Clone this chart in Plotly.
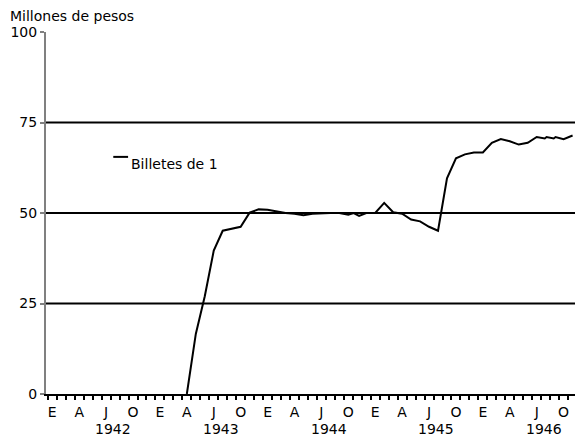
import plotly.graph_objects as go

# meses contados desde enero de 1942 (0 = E 1942)
meses = [15, 16, 17, 18, 19, 20, 21, 22, 23, 24, 25, 26, 27, 28, 29, 30, 31, 32,
         33, 33.6, 34.2, 35, 36, 37, 38, 39, 40, 41, 42, 43, 44, 45, 46, 47, 48,
         49, 50, 51, 52, 53, 54, 54.9, 55.1, 55.9, 56.1, 57, 58]
billetes = [0, 16.6, 27, 39.6, 45.1, 45.6, 46.2, 50.1, 51, 50.9, 50.4, 50, 49.8,
            49.4, 49.8, 50, 50, 50, 49.5, 50, 49.2, 50, 50, 52.8, 50.2, 49.8, 48.2,
            47.7, 46.2, 45.1, 59.6, 65.1, 66.2, 66.7, 66.7, 69.4, 70.4, 69.8, 68.9,
            69.4, 71.0, 70.6, 71.0, 70.6, 71.0, 70.4, 71.4]

etiquetas_mes = ["E", "A", "J", "O"] * 5
pos_mes = list(range(0, 60, 3))
anios = ["1942", "1943", "1944", "1945", "1946"]
lineas_guia = [25, 50, 75]

fuente = "DejaVu Sans"

fig = go.Figure()

fig.add_trace(
    go.Scatter(
        x=meses,
        y=billetes,
        mode="lines",
        line=dict(color="black", width=2),
        name="Billetes de 1",
        showlegend=False
    )
)

for v in lineas_guia:
    fig.add_hline(y=v, line=dict(color="black", width=2), layer="below")

for i, a in enumerate(anios):
    fig.add_annotation(
        x=12 * i + 6.8, y=0, xref="x", yref="paper",
        text=a, showarrow=False, yanchor="top", yshift=-25,
        font=dict(family=fuente, size=14, color="black")
    )

# leyenda hecha a mano
fig.add_shape(type="line", x0=6.8, x1=8.45, y0=65.5, y1=65.5,
              xref="x", yref="y", line=dict(color="black", width=2))
fig.add_annotation(
    x=8.5, y=63.5, xref="x", yref="y", text="Billetes de 1",
    showarrow=False, xanchor="left", yanchor="middle",
    font=dict(family=fuente, size=14, color="black")
)

fig.add_annotation(
    x=-0.072, y=1.044, xref="paper", yref="paper", text="Millones de pesos",
    showarrow=False, xanchor="left", yanchor="middle",
    font=dict(family=fuente, size=14, color="black")
)

fig.update_layout(
    width=575,
    height=444,
    margin=dict(l=46, r=0, t=32, b=50),
    paper_bgcolor="white",
    plot_bgcolor="white",
    font=dict(family=fuente, size=14, color="black"),
    xaxis=dict(
        range=[-0.7, 58.27],
        automargin=False,
        showline=True, linecolor="black", linewidth=1.5,
        showgrid=False, zeroline=False,
        tickmode="array", tickvals=pos_mes, ticktext=etiquetas_mes,
        ticks="outside", ticklen=4, tickcolor="rgba(0,0,0,0)",
        minor=dict(tickmode="linear", tick0=-0.5, dtick=1, ticks="outside",
                   ticklen=4, tickwidth=1.5, tickcolor="black", showgrid=False),
    ),
    yaxis=dict(
        range=[0, 100],
        automargin=False,
        showline=True, linecolor="#808080", linewidth=2,
        showgrid=False, zeroline=False,
        tickmode="array", tickvals=[0, 25, 50, 75, 100],
        ticks="outside", ticklen=4, tickcolor="#808080", tickwidth=1.5,
    ),
)

fig.write_html("out.html", config={"displayModeBar": False},
               post_script="document.body.style.margin='0';")
